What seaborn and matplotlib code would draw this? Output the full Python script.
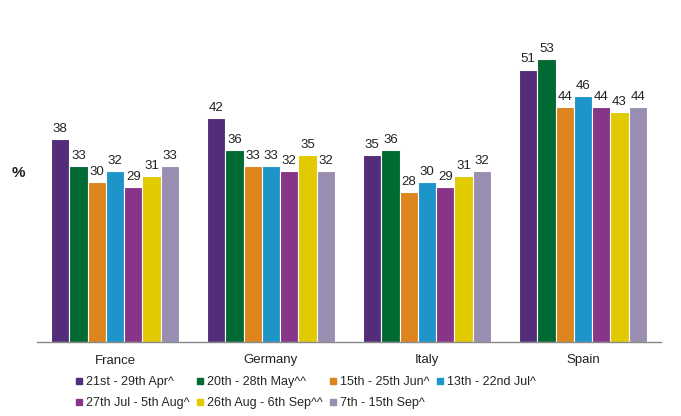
import matplotlib
matplotlib.use("Agg")
import matplotlib.pyplot as plt
from matplotlib.lines import Line2D
from matplotlib.ticker import FixedLocator
import seaborn as sns
import pandas as pd

countries = ["France", "Germany", "Italy", "Spain"]
waves = ["21st - 29th Apr^", "20th - 28th May^^", "15th - 25th Jun^", "13th - 22nd Jul^",
         "27th Jul - 5th Aug^", "26th Aug - 6th Sep^^", "7th - 15th Sep^"]
values = {
    "21st - 29th Apr^":     [38, 42, 35, 51],
    "20th - 28th May^^":    [33, 36, 36, 53],
    "15th - 25th Jun^":     [30, 33, 28, 44],
    "13th - 22nd Jul^":     [32, 33, 30, 46],
    "27th Jul - 5th Aug^":  [29, 32, 29, 44],
    "26th Aug - 6th Sep^^": [31, 35, 31, 43],
    "7th - 15th Sep^":      [33, 32, 32, 44],
}
colors = ["#542D7A", "#006A33", "#DE841C", "#1E95C9", "#873589", "#E2CA00", "#9A8DB2"]

rows = []
for w in waves:
    for c, v in zip(countries, values[w]):
        rows.append({"country": c, "wave": w, "value": v})
df = pd.DataFrame(rows)

sns.set_theme(style="white")
plt.rcParams["font.family"] = ["Liberation Sans", "DejaVu Sans"]

fig = plt.figure(figsize=(6.81, 4.16), dpi=100)
ax = fig.add_axes([37 / 681, 1 - 342 / 416, 624 / 681, 322 / 416])

sns.barplot(data=df, x="country", y="value", hue="wave", hue_order=waves,
            order=countries, palette=colors, saturation=1, width=0.82, ax=ax,
            edgecolor="white", linewidth=0.8, legend=False, errorbar=None)

for cont in ax.containers:
    ax.bar_label(cont, fmt="%d", padding=3, fontsize=9.5, color="#222222")

ax.set_ylim(0, 322 / 5.34)
ax.set_xlim(-0.5, 3.5)
ax.set_yticks([])
ax.set_xlabel("")
ax.set_ylabel("")
for s in ["top", "right", "left"]:
    ax.spines[s].set_visible(False)
ax.spines["bottom"].set_color("#888888")
ax.spines["bottom"].set_linewidth(1)
ax.tick_params(axis="x", which="major", length=0, labelsize=9.5, pad=9, colors="#222222")
ax.xaxis.set_minor_locator(FixedLocator([-0.5, 0.5, 1.5, 2.5, 3.5]))
ax.tick_params(axis="x", which="minor", length=5, width=1, color="#888888", direction="out")

fig.text(18 / 681, 1 - 173 / 416, "%", fontsize=11, fontweight="bold", ha="center", va="center",
         color="#222222")

handles = [Line2D([0], [0], marker="s", linestyle="none", markersize=4.5,
                  markerfacecolor=c, markeredgecolor=c) for c in colors]
order = [0, 4, 1, 5, 2, 6, 3]
fig.legend([handles[i] for i in order], [waves[i] for i in order],
           loc="upper left", bbox_to_anchor=(76 / 681, 1 - 376 / 416),
           ncol=4, frameon=False, fontsize=9, handlelength=0.5, handletextpad=0.3,
           columnspacing=0.6, labelspacing=0.75, borderaxespad=0, borderpad=0)

fig.savefig("out.png", dpi=100)
